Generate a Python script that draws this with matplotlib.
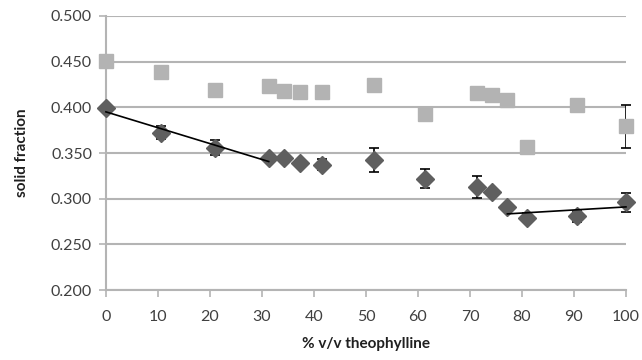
import matplotlib.pyplot as plt
import numpy as np

plt.rcParams['font.family'] = ['Lato', 'DejaVu Sans']

# DATA
x_sq = [0, 10.5, 21, 31.3, 34.3, 37.3, 41.5, 51.5, 61.3, 71.3, 74.2, 77.2, 81, 90.5, 100]
y_sq = [0.451, 0.439, 0.419, 0.423, 0.418, 0.417, 0.417, 0.424, 0.393, 0.416, 0.413, 0.408, 0.357, 0.403, 0.379]
err_sq = [0, 0, 0, 0, 0, 0, 0, 0, 0, 0, 0, 0, 0, 0, 0.024]

x_di = [0, 10.5, 21, 31.3, 34.3, 37.3, 41.5, 51.5, 61.3, 71.3, 74.2, 77.2, 81, 90.5, 100]
y_di = [0.399, 0.372, 0.356, 0.344, 0.344, 0.339, 0.337, 0.342, 0.322, 0.313, 0.307, 0.291, 0.279, 0.281, 0.296]
err_di = [0.002, 0.007, 0.008, 0.003, 0, 0, 0.006, 0.013, 0.010, 0.012, 0, 0, 0.005, 0.006, 0.010]

x_ticks = [0, 10, 20, 30, 40, 50, 60, 70, 80, 90, 100]
y_ticks = [0.200, 0.250, 0.300, 0.350, 0.400, 0.450, 0.500]

grid_c = '#b4b4b4'

fig = plt.figure(figsize=(6.42, 3.6), dpi=100)
ax = fig.add_axes([0.165, 0.194, 0.81, 0.762])

# light squares
ax.errorbar(x_sq, y_sq, yerr=err_sq, fmt='s', color='#b3b3b3', markersize=10.5,
            ecolor='black', elinewidth=1.2, capsize=3.5, capthick=1.2, zorder=3)
# dark diamonds
ax.errorbar(x_di, y_di, yerr=err_di, fmt='D', color='#5f5f5f', markersize=9.5,
            ecolor='black', elinewidth=1.2, capsize=3.5, capthick=1.2, zorder=4)

# linear trend lines over the two segments
for lo, hi in [(0, 4), (11, 15)]:
    xs = np.array(x_di[lo:hi])
    k, b = np.polyfit(xs, y_di[lo:hi], 1)
    ax.plot([xs[0], xs[-1]], [k * xs[0] + b, k * xs[-1] + b], color='black', lw=1.2, zorder=5)

ax.set_xlim(0, 100)
ax.set_ylim(0.2, 0.5)
ax.set_xticks(x_ticks)
ax.set_yticks(y_ticks)
ax.set_yticklabels([f'{v:.3f}' for v in y_ticks])

ax.grid(axis='y', color=grid_c, lw=1.5, zorder=0)
ax.set_axisbelow(True)
for s in ['top', 'right']:
    ax.spines[s].set_visible(False)
for s in ['left', 'bottom']:
    ax.spines[s].set_color(grid_c)
    ax.spines[s].set_linewidth(1.5)
ax.tick_params(axis='both', colors=grid_c, labelcolor='#404040', labelsize=11.5,
               length=5, width=1.2)
ax.tick_params(axis='x', pad=9)
ax.tick_params(axis='y', pad=5)

ax.set_xlabel('% v/v theophylline', fontsize=11, fontweight='bold', color='#202020', labelpad=10)
ax.set_ylabel('solid fraction', fontsize=11, fontweight='bold', color='#202020', labelpad=16)

for line in ax.get_lines():
    line.set_clip_on(False)

fig.savefig('out.png', dpi=100)
